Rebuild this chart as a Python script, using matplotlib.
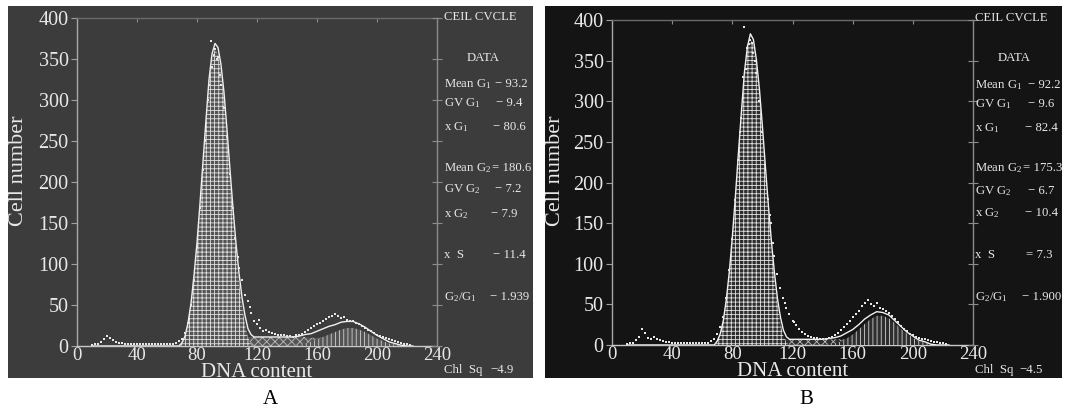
import numpy as np
import matplotlib
matplotlib.use("Agg")
import matplotlib.pyplot as plt
from matplotlib.patches import Rectangle

plt.rcParams['font.family'] = ['Liberation Serif', 'DejaVu Serif']
plt.rcParams['mathtext.fontset'] = 'custom'
plt.rcParams['mathtext.rm'] = 'Liberation Serif'
plt.rcParams['mathtext.it'] = 'Liberation Serif'
plt.rcParams['hatch.linewidth'] = 0.6

# 通道 (DNA content)
ch = [10, 14, 18, 22, 26, 30, 34, 38, 42, 46, 50, 54, 58, 62,
      66, 68, 70, 72, 74, 76, 78, 80, 82, 84, 86, 88, 90, 92, 94, 96, 98, 100,
      102, 104, 106, 108, 110, 112, 114, 116, 118, 120,
      124, 128, 132, 136, 140, 144, 148, 152, 156, 160, 164, 168, 172, 176,
      180, 184, 188, 192, 196, 200, 204, 208, 212, 216, 220, 224]

# 面板 A 拟合分量
g1_a = [0] * 14 + [0, 0, 4, 12, 28, 52, 86, 125, 172, 222, 272, 320, 350, 362, 356, 335, 300, 255,
                   205, 158, 115, 78, 48, 26, 10, 3, 0, 0] + [0] * 26
s_a = [0] * 14 + [0, 0, 0, 0, 0, 0, 0, 1, 2, 3, 4, 5, 6, 7, 8, 8, 9, 9,
                  10, 10, 10, 11, 11, 11, 11, 11, 11, 11] + \
      [11, 11, 11, 11, 11, 11, 11, 11, 10, 10, 10, 10, 9, 9, 8, 8, 7, 6, 5, 4, 3, 2, 1, 0, 0, 0]
g2_a = [0] * 42 + [0, 0, 0, 0, 0, 0, 1, 3, 5, 8, 11, 14, 17, 20, 22, 22, 20, 17, 13, 9, 6, 3, 2, 1, 0, 0]

# 面板 B 拟合分量
g1_b = [0] * 14 + [0, 0, 5, 14, 30, 56, 90, 132, 180, 232, 282, 330, 362, 377, 370, 345, 308, 262,
                   212, 164, 120, 82, 50, 27, 11, 3, 0, 0] + [0] * 26
s_b = [0] * 14 + [0, 0, 0, 0, 0, 0, 0, 1, 2, 3, 4, 5, 5, 6, 6, 6, 7, 7,
                  7, 7, 7, 7, 7, 7, 7, 7, 7, 7] + \
      [7, 7, 7, 7, 7, 7, 7, 7, 7, 6, 6, 6, 5, 5, 4, 4, 3, 3, 2, 2, 1, 1, 0, 0, 0, 0]
g2_b = [0] * 42 + [0, 0, 0, 0, 0, 1, 2, 4, 8, 13, 19, 26, 32, 36, 36, 33, 27, 20, 14, 9, 5, 3, 1, 0, 0, 0]

# 原始数据点
raw_x_a = [10, 12, 14, 16, 18, 20, 22, 24, 26, 28, 30, 32, 34, 36, 38, 40, 42, 44, 46, 48, 50, 52, 54,
           56, 58, 60, 62, 64, 66, 68, 70, 72, 74, 76, 78, 80, 82, 84, 85, 86, 87, 88, 89, 90, 91, 92,
           93, 94, 95, 96, 98, 100, 102, 104, 105, 106, 107, 108, 110, 112, 114, 115, 116, 118, 120,
           121, 122, 124, 126, 128, 130, 132, 134, 136, 138, 140, 142, 144, 146, 148, 150, 152, 154,
           156, 158, 160, 162, 164, 166, 168, 170, 172, 174, 176, 178, 180, 182, 184, 186, 188, 190,
           192, 194, 196, 198, 200, 202, 204, 206, 208, 210, 212, 214, 216, 218, 220, 222]
raw_y_a = [1, 2, 3, 5, 9, 12, 10, 7, 5, 4, 4, 3, 3, 2, 3, 2, 2, 2, 3, 2, 2, 2, 3,
           2, 2, 2, 3, 3, 4, 6, 9, 16, 28, 50, 80, 122, 168, 215, 250, 262, 300, 318, 372, 340, 355, 362,
           350, 352, 330, 318, 290, 255, 210, 168, 132, 120, 108, 95, 80, 62, 55, 48, 40, 30, 27,
           32, 22, 18, 20, 17, 16, 15, 14, 13, 13, 12, 12, 11, 13, 14, 15, 17, 20,
           22, 25, 27, 28, 30, 33, 35, 37, 39, 36, 34, 35, 32, 31, 30, 28, 27, 25,
           22, 20, 18, 16, 14, 12, 11, 10, 8, 7, 6, 5, 4, 3, 2, 1]
raw_x_b = raw_x_a
raw_y_b = [1, 2, 3, 6, 10, 20, 15, 9, 8, 10, 7, 6, 5, 4, 4, 3, 3, 3, 3, 2, 3, 2, 3,
           2, 3, 2, 3, 3, 5, 8, 14, 22, 35, 58, 92, 130, 178, 228, 262, 280, 330, 392, 340, 365, 370, 375,
           372, 360, 350, 335, 300, 262, 222, 180, 160, 150, 125, 110, 88, 70, 58, 52, 45, 38, 30,
           28, 25, 20, 16, 13, 11, 10, 9, 9, 8, 8, 8, 9, 10, 12, 15, 18, 22,
           26, 30, 34, 38, 42, 48, 52, 55, 50, 48, 52, 46, 44, 42, 40, 36, 32, 28,
           24, 20, 17, 14, 12, 10, 9, 8, 7, 6, 5, 4, 4, 3, 2, 1]

xticks = [0, 40, 80, 120, 160, 200, 240]
yticks = [0, 50, 100, 150, 200, 250, 300, 350, 400]

# 右侧文字: 标签 + 数值
names = ['CEIL CVCLE', 'DATA', r'Mean $\mathrm{G}_1$', r'GV $\mathrm{G}_1$', r'x $\mathrm{G}_1$',
         r'Mean $\mathrm{G}_2$', r'GV $\mathrm{G}_2$', r'x $\mathrm{G}_2$', 'x  S',
         r'$\mathrm{G}_2/\mathrm{G}_1$', 'Chl  Sq']
vals_a = ['', '', '− 93.2', '− 9.4', '− 80.6', '= 180.6', '− 7.2', '− 7.9', '− 11.4', '− 1.939', '−4.9']
vals_b = ['', '', '− 92.2', '− 9.6', '− 82.4', '= 175.3', '− 6.7', '− 10.4', '= 7.3', '− 1.900', '−4.5']

W, H = 1068, 412
fig = plt.figure(figsize=(W / 100, H / 100), dpi=100)
fig.patch.set_facecolor('white')


def fx(px):
    return px / W


def fy(py):
    return 1 - py / H


panels = [
    dict(bg=(8, 6, 533, 378), ax=(77, 18, 437, 346), col='#3c3c3c', g1face='#555555',
         g1=g1_a, s=s_a, g2=g2_a, rx=raw_x_a, ry=raw_y_a, vals=vals_a, tx=444,
         vend=[0, 0, 528, 522, 526, 531, 521, 517, 526, 529, 514],
         ys=[17, 58, 84, 103, 127, 168, 189, 214, 255, 297, 370], name='A', nx=270, ylx=-0.135),
    dict(bg=(545, 6, 1062, 378), ax=(612, 20, 973, 345), col='#141414', g1face='#2e2e2e',
         g1=g1_b, s=s_b, g2=g2_b, rx=raw_x_b, ry=raw_y_b, vals=vals_b, tx=975,
         vend=[0, 0, 1060, 1054, 1058, 1062, 1054, 1058, 1052, 1061, 1043],
         ys=[18, 58, 85, 104, 128, 168, 191, 213, 255, 297, 370], name='B', nx=806, ylx=-0.13),
]

txt = '#e8e8e8'
for p in panels:
    x0, y0, x1, y1 = p['bg']
    fig.patches.append(Rectangle((fx(x0), fy(y1)), fx(x1 - x0), (y1 - y0) / H,
                                 transform=fig.transFigure, facecolor=p['col'], edgecolor='none', zorder=-5))
    a0, b0, a1, b1 = p['ax']
    ax = fig.add_axes([fx(a0), fy(b1), fx(a1 - a0), (b1 - b0) / H])
    ax.set_facecolor('none')
    x = np.array(ch)
    g1 = np.array(p['g1'])
    s = np.array(p['s'])
    g2 = np.array(p['g2'])
    ax.fill_between(x, 0, s, facecolor=p['g1face'], edgecolor='#bdbdbd', hatch='xxxx', linewidth=0, zorder=2)
    ax.fill_between(x, 0, g2, facecolor=p['g1face'], edgecolor='#d0d0d0', hatch='||||', linewidth=0, zorder=3)
    ax.fill_between(x, 0, g1, facecolor=p['g1face'], edgecolor='#e0e0e0', hatch='++++', linewidth=0, zorder=3)
    ax.plot(x, g1 + s + g2, color='#f0f0f0', lw=1.0, zorder=4)
    ax.scatter(p['rx'], p['ry'], s=3, marker='s', color='#e6e6e6', linewidths=0, zorder=5)

    ax.set_xlim(0, 240)
    ax.set_ylim(0, 400)
    ax.set_xticks(xticks)
    ax.set_yticks(yticks)
    ax.tick_params(axis='x', bottom=False, top=True, direction='in', length=3, color='#8a8a8a',
                   labelsize=13.5, labelcolor=txt, pad=1)
    ax.tick_params(axis='y', left=True, direction='out', length=4, color='#a0a0a0',
                   labelsize=14.5, labelcolor=txt, pad=2)
    for side, c in [('left', '#a8a8a8'), ('bottom', '#c8c8c8'), ('right', '#8c8c8c'), ('top', '#6a6a6a')]:
        ax.spines[side].set_color(c)
        ax.spines[side].set_linewidth(1.0)
    ax.set_xlabel('DNA content', color=txt, fontsize=15, labelpad=-1)
    ax.set_ylabel('Cell number', color=txt, fontsize=16)
    ax.yaxis.set_label_coords(p['ylx'], 0.535)

    ax2 = ax.twinx()
    ax2.set_ylim(0, 400)
    ax2.set_yticks(yticks)
    ax2.tick_params(axis='y', right=True, direction='inout', length=7, color='#8c8c8c', labelright=False)
    for sp in ax2.spines.values():
        sp.set_visible(False)

    for lab, val, ve, yy in zip(names, p['vals'], p['vend'], p['ys']):
        xx = p['tx'] + 23 if lab == 'DATA' else p['tx']
        fig.text(fx(xx), fy(yy), lab, color=txt, fontsize=9.2, ha='left', va='center')
        if val:
            fig.text(fx(ve), fy(yy), val, color=txt, fontsize=9.2, ha='right', va='center')

    fig.text(fx(p['nx']), fy(400), p['name'], color='black', fontsize=15, ha='center', va='center')

fig.savefig('out.png', dpi=100, facecolor='white')
